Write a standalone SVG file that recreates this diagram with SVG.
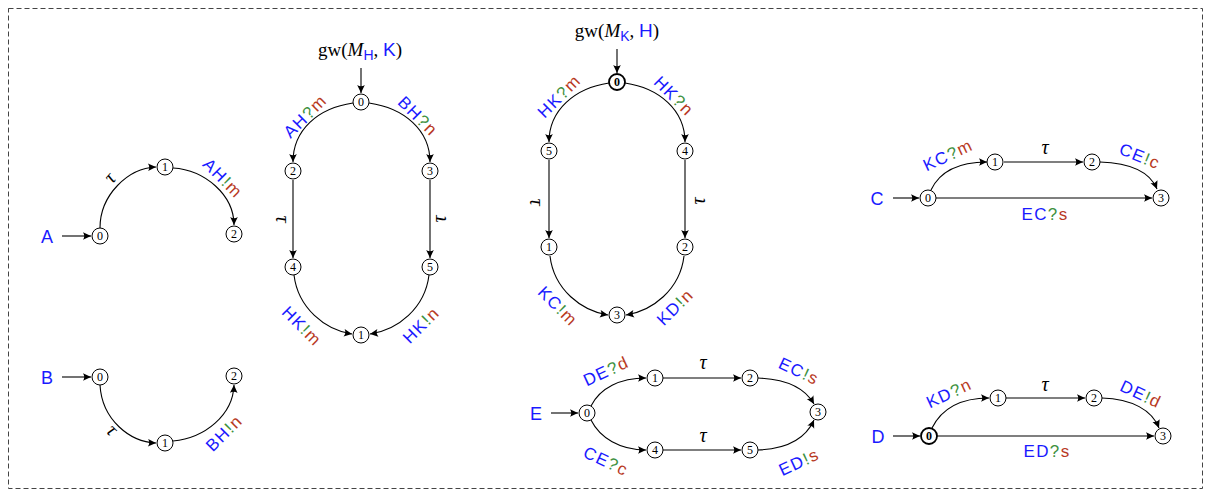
<svg xmlns="http://www.w3.org/2000/svg" width="1211" height="497" viewBox="0 0 1211 497">
<style>
.bg{fill:#fff}
.frame{fill:none;stroke:#444;stroke-width:1;stroke-dasharray:5 3}
.n circle{fill:#fff;stroke:#000;stroke-width:1}
.n text{font-family:"Liberation Serif",serif;font-size:12px;fill:#000;text-anchor:middle}
.n.b circle{stroke-width:1.8}
.n.b text{font-weight:bold}
.e{fill:none;stroke:#000;stroke-width:1.1;marker-end:url(#ah)}
.lbl{font-family:"Liberation Sans",sans-serif;font-size:17px;letter-spacing:1.4px;text-anchor:middle}
.bl{fill:#1a1aff}
.gr{fill:#3d9140}
.rd{fill:#b83a1f}
.tau{font-family:"Liberation Serif",serif;font-style:italic;font-size:20px;text-anchor:middle;fill:#000}
.name{font-family:"Liberation Sans",sans-serif;font-size:18px;fill:#1a1aff;text-anchor:middle}
.gw{font-family:"Liberation Serif",serif;font-size:19px;fill:#000;text-anchor:middle}
.gw .s{font-family:"Liberation Sans",sans-serif}
</style>
<defs>
<marker id="ah" viewBox="-9 -5 10 10" refX="0" refY="0" markerWidth="10" markerHeight="10" markerUnits="userSpaceOnUse" orient="auto">
<path d="M0,0 L-8,-3.8 Q-5.5,0 -8,3.8 Z" fill="#000"/>
</marker>
</defs>
<rect class="bg" x="0" y="0" width="1211" height="497"/>
<rect class="frame" x="8.5" y="8.5" width="1194" height="480"/>

<g id="connectors">
<path class="e" d="M62,236 L91,236"/>
<path class="e" d="M100,228 C100,195 128,168 156,167"/>
<path class="e" d="M173,168 C205,170 234,195 234,225"/>
<path class="e" d="M62,377 L91,377"/>
<path class="e" d="M100,385 C102,420 130,442 156,443"/>
<path class="e" d="M173,441 C205,438 233,415 234,385"/>
<path class="e" d="M361,68 L361,93"/>
<path class="e" d="M353,103 C318,108 293,130 293,162"/>
<path class="e" d="M369,103 C404,108 430,130 430,162"/>
<path class="e" d="M293,180 L293,258"/>
<path class="e" d="M430,180 L430,258"/>
<path class="e" d="M294,275 C298,308 325,330 352,334"/>
<path class="e" d="M429,275 C425,308 398,330 370,334"/>
<path class="e" d="M617,49 L617,73"/>
<path class="e" d="M609,83 C575,88 549,110 549,142"/>
<path class="e" d="M625,83 C659,88 685,110 685,142"/>
<path class="e" d="M549,160 L549,238"/>
<path class="e" d="M685,160 L685,238"/>
<path class="e" d="M550,256 C554,290 582,311 608,315"/>
<path class="e" d="M684,256 C680,290 652,311 626,315"/>
<path class="e" d="M893,198 L919,198"/>
<path class="e" d="M931,190 C940,171 960,162 987,162"/>
<path class="e" d="M1004,162 L1083,162"/>
<path class="e" d="M1100,162 C1130,163 1150,172 1157,189"/>
<path class="e" d="M936,198 L1152,198"/>
<path class="e" d="M551,413 L578,413"/>
<path class="e" d="M591,406 C600,388 620,378 646,378"/>
<path class="e" d="M663,378 L741,378"/>
<path class="e" d="M758,378 C785,379 805,388 814,404"/>
<path class="e" d="M591,420 C600,438 620,450 646,450"/>
<path class="e" d="M663,450 L741,450"/>
<path class="e" d="M758,450 C785,449 805,440 814,420"/>
<path class="e" d="M893,436 L920,436"/>
<path class="e" d="M932,428 C942,408 962,398 989,398"/>
<path class="e" d="M1006,398 L1085,398"/>
<path class="e" d="M1102,398 C1132,399 1152,410 1159,428"/>
<path class="e" d="M937,436 L1154,436"/>
</g>

<g id="labels">
<text class="tau" transform="translate(110,178) rotate(-50)" dy="0.3em">τ</text>
<text class="lbl" transform="translate(223,178) rotate(45)" dy="0.35em"><tspan class="bl">AH</tspan><tspan class="gr">!</tspan><tspan class="rd">m</tspan></text>
<text class="tau" transform="translate(112,430) rotate(45)" dy="0.3em">τ</text>
<text class="lbl" transform="translate(224,433) rotate(-45)" dy="0.35em"><tspan class="bl">BH</tspan><tspan class="gr">!</tspan><tspan class="rd">n</tspan></text>
<text class="lbl" transform="translate(305,116) rotate(-45)" dy="0.35em"><tspan class="bl">AH</tspan><tspan class="gr">?</tspan><tspan class="rd">m</tspan></text>
<text class="lbl" transform="translate(418,116) rotate(45)" dy="0.35em"><tspan class="bl">BH</tspan><tspan class="gr">?</tspan><tspan class="rd">n</tspan></text>
<text class="tau" transform="translate(282,219) rotate(90)" dy="0.3em">τ</text>
<text class="tau" transform="translate(440,219) rotate(-90)" dy="0.3em">τ</text>
<text class="lbl" transform="translate(302,326) rotate(45)" dy="0.35em"><tspan class="bl">HK</tspan><tspan class="gr">!</tspan><tspan class="rd">m</tspan></text>
<text class="lbl" transform="translate(421,325) rotate(-45)" dy="0.35em"><tspan class="bl">HK</tspan><tspan class="gr">!</tspan><tspan class="rd">n</tspan></text>
<text class="lbl" transform="translate(559,96) rotate(-45)" dy="0.35em"><tspan class="bl">HK</tspan><tspan class="gr">?</tspan><tspan class="rd">m</tspan></text>
<text class="lbl" transform="translate(674,96) rotate(45)" dy="0.35em"><tspan class="bl">HK</tspan><tspan class="gr">?</tspan><tspan class="rd">n</tspan></text>
<text class="tau" transform="translate(536,202) rotate(90)" dy="0.3em">τ</text>
<text class="tau" transform="translate(699,201) rotate(-90)" dy="0.3em">τ</text>
<text class="lbl" transform="translate(558,306) rotate(45)" dy="0.35em"><tspan class="bl">KC</tspan><tspan class="gr">!</tspan><tspan class="rd">m</tspan></text>
<text class="lbl" transform="translate(675,307) rotate(-45)" dy="0.35em"><tspan class="bl">KD</tspan><tspan class="gr">!</tspan><tspan class="rd">n</tspan></text>
<text class="lbl" transform="translate(948,155) rotate(-25)" dy="0.35em"><tspan class="bl">KC</tspan><tspan class="gr">?</tspan><tspan class="rd">m</tspan></text>
<text class="tau" x="1045" y="148" dy="0.3em">τ</text>
<text class="lbl" transform="translate(1140,156) rotate(22)" dy="0.35em"><tspan class="bl">CE</tspan><tspan class="gr">!</tspan><tspan class="rd">c</tspan></text>
<text class="lbl" x="1045" y="214" dy="0.35em"><tspan class="bl">EC</tspan><tspan class="gr">?</tspan><tspan class="rd">s</tspan></text>
<text class="lbl" transform="translate(606,371) rotate(-25)" dy="0.35em"><tspan class="bl">DE</tspan><tspan class="gr">?</tspan><tspan class="rd">d</tspan></text>
<text class="tau" x="703" y="363" dy="0.3em">τ</text>
<text class="tau" x="703" y="436" dy="0.3em">τ</text>
<text class="lbl" transform="translate(799,371) rotate(25)" dy="0.35em"><tspan class="bl">EC</tspan><tspan class="gr">!</tspan><tspan class="rd">s</tspan></text>
<text class="lbl" transform="translate(606,461) rotate(25)" dy="0.35em"><tspan class="bl">CE</tspan><tspan class="gr">?</tspan><tspan class="rd">c</tspan></text>
<text class="lbl" transform="translate(799,462) rotate(-25)" dy="0.35em"><tspan class="bl">ED</tspan><tspan class="gr">!</tspan><tspan class="rd">s</tspan></text>
<text class="lbl" transform="translate(949,393) rotate(-25)" dy="0.35em"><tspan class="bl">KD</tspan><tspan class="gr">?</tspan><tspan class="rd">n</tspan></text>
<text class="tau" x="1045" y="385" dy="0.3em">τ</text>
<text class="lbl" transform="translate(1141,394) rotate(25)" dy="0.35em"><tspan class="bl">DE</tspan><tspan class="gr">!</tspan><tspan class="rd">d</tspan></text>
<text class="lbl" x="1047" y="451" dy="0.35em"><tspan class="bl">ED</tspan><tspan class="gr">?</tspan><tspan class="rd">s</tspan></text>
</g>

<g id="names">
<text class="name" x="47" y="243">A</text>
<text class="name" x="47" y="384">B</text>
<text class="name" x="877" y="205">C</text>
<text class="name" x="536" y="420">E</text>
<text class="name" x="878" y="443">D</text>
<text class="gw" x="360" y="56">gw(<tspan font-style="italic">M</tspan><tspan class="s bl" font-size="14" dy="4">H</tspan><tspan dy="-4">, </tspan><tspan class="s bl">K</tspan>)</text>
<text class="gw" x="617" y="37">gw(<tspan font-style="italic">M</tspan><tspan class="s bl" font-size="14" dy="4">K</tspan><tspan dy="-4">, </tspan><tspan class="s bl">H</tspan>)</text>
</g>

<g id="A0" class="n"><circle cx="100" cy="236" r="8"/><text x="100" y="240">0</text></g>
<g id="A1" class="n"><circle cx="165" cy="167" r="8"/><text x="165" y="171">1</text></g>
<g id="A2" class="n"><circle cx="234" cy="234" r="8"/><text x="234" y="238">2</text></g>

<g id="B0" class="n"><circle cx="100" cy="377" r="8"/><text x="100" y="381">0</text></g>
<g id="B1" class="n"><circle cx="165" cy="443" r="8"/><text x="165" y="447">1</text></g>
<g id="B2" class="n"><circle cx="234" cy="376" r="8"/><text x="234" y="380">2</text></g>

<g id="H0" class="n"><circle cx="361" cy="102" r="8"/><text x="361" y="106">0</text></g>
<g id="H2" class="n"><circle cx="293" cy="171" r="8"/><text x="293" y="175">2</text></g>
<g id="H3" class="n"><circle cx="430" cy="171" r="8"/><text x="430" y="175">3</text></g>
<g id="H4" class="n"><circle cx="293" cy="267" r="8"/><text x="293" y="271">4</text></g>
<g id="H5" class="n"><circle cx="430" cy="267" r="8"/><text x="430" y="271">5</text></g>
<g id="H1" class="n"><circle cx="361" cy="335" r="8"/><text x="361" y="339">1</text></g>

<g id="K0" class="n b"><circle cx="617" cy="82" r="8"/><text x="617" y="86">0</text></g>
<g id="K5" class="n"><circle cx="549" cy="151" r="8"/><text x="549" y="155">5</text></g>
<g id="K4" class="n"><circle cx="685" cy="151" r="8"/><text x="685" y="155">4</text></g>
<g id="K1" class="n"><circle cx="549" cy="247" r="8"/><text x="549" y="251">1</text></g>
<g id="K2" class="n"><circle cx="685" cy="247" r="8"/><text x="685" y="251">2</text></g>
<g id="K3" class="n"><circle cx="617" cy="315" r="8"/><text x="617" y="319">3</text></g>

<g id="C0" class="n"><circle cx="928" cy="198" r="8"/><text x="928" y="202">0</text></g>
<g id="C1" class="n"><circle cx="995" cy="162" r="8"/><text x="995" y="166">1</text></g>
<g id="C2" class="n"><circle cx="1092" cy="162" r="8"/><text x="1092" y="166">2</text></g>
<g id="C3" class="n"><circle cx="1161" cy="198" r="8"/><text x="1161" y="202">3</text></g>

<g id="E0" class="n"><circle cx="587" cy="413" r="8"/><text x="587" y="417">0</text></g>
<g id="E1" class="n"><circle cx="655" cy="378" r="8"/><text x="655" y="382">1</text></g>
<g id="E2" class="n"><circle cx="750" cy="378" r="8"/><text x="750" y="382">2</text></g>
<g id="E3" class="n"><circle cx="818" cy="412" r="8"/><text x="818" y="416">3</text></g>
<g id="E4" class="n"><circle cx="655" cy="450" r="8"/><text x="655" y="454">4</text></g>
<g id="E5" class="n"><circle cx="750" cy="450" r="8"/><text x="750" y="454">5</text></g>

<g id="D0" class="n b"><circle cx="929" cy="436" r="8"/><text x="929" y="440">0</text></g>
<g id="D1" class="n"><circle cx="998" cy="398" r="8"/><text x="998" y="402">1</text></g>
<g id="D2" class="n"><circle cx="1094" cy="398" r="8"/><text x="1094" y="402">2</text></g>
<g id="D3" class="n"><circle cx="1163" cy="436" r="8"/><text x="1163" y="440">3</text></g>
</svg>
